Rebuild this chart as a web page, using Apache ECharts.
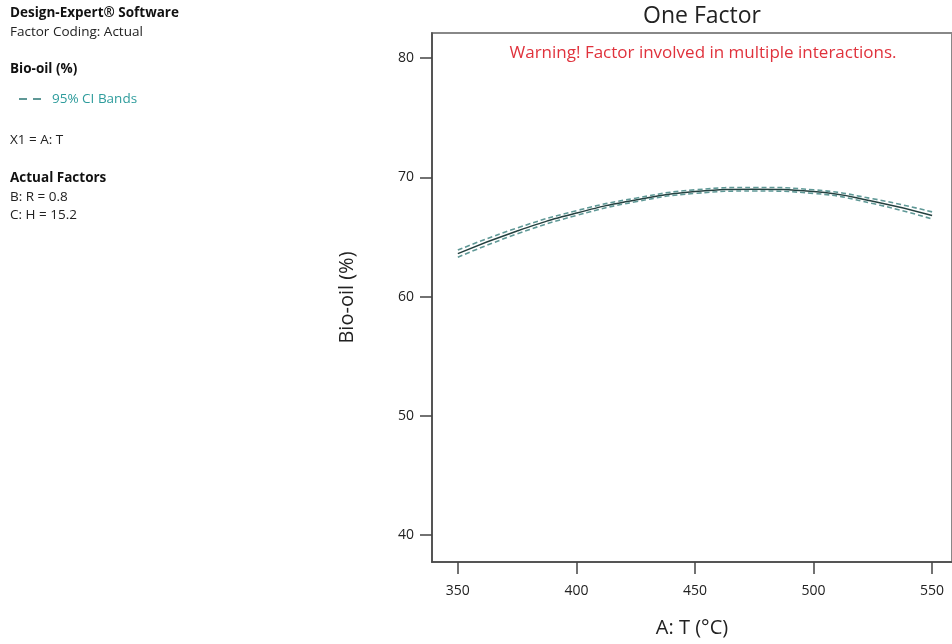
<!DOCTYPE html>
<html>
<head>
<meta charset="utf-8">
<script src="https://cdn.jsdelivr.net/npm/echarts@6/dist/echarts.min.js"></script>
<style>
  html, body { margin: 0; padding: 0; background: #fff; }
  #chart { width: 952px; height: 644px; }
</style>
</head>
<body>
<div id="chart"></div>
<script>
const temps = [350, 375, 400, 425, 450, 475, 500, 525, 550]
const bioOil = [63.6, 65.5, 67.0, 68.1, 68.8, 69.0, 68.8, 68.0, 66.8]
const ciUpper = [63.9, 65.75, 67.2, 68.25, 68.95, 69.15, 68.95, 68.2, 67.1]
const ciLower = [63.3, 65.25, 66.8, 67.95, 68.65, 68.85, 68.65, 67.8, 66.5]
const xTicks = [350, 400, 450, 500, 550]
const yTicks = [40, 50, 60, 70, 80]

const font = '"Open Sans", "Noto Sans", sans-serif'
const chart = echarts.init(document.getElementById('chart'))

const pairs = arr => temps.map((t, i) => [t, arr[i]])

chart.setOption({
  backgroundColor: '#fff',
  animation: false,
  textStyle: { fontFamily: font },
  title: [
    {
      text: 'One Factor',
      left: 697, top: 0, textAlign: 'center',
      textStyle: { fontSize: 23, fontWeight: 'normal', color: '#222', fontFamily: font }
    },
    {
      text: 'Warning! Factor involved in multiple interactions.',
      left: 698, top: 40, textAlign: 'center',
      textStyle: { fontSize: 17, fontWeight: 'normal', color: '#e0323c', fontFamily: font }
    }
  ],
  graphic: [
    { type: 'text', left: 10, top: 6, style: { text: 'Design-Expert® Software', font: 'bold 13.5px ' + font, fill: '#111' } },
    { type: 'text', left: 10, top: 25, style: { text: 'Factor Coding: Actual', font: '13.5px ' + font, fill: '#222' } },
    { type: 'text', left: 10, top: 62, style: { text: 'Bio-oil (%)', font: 'bold 13.5px ' + font, fill: '#111' } },
    { type: 'text', left: 10, top: 133, style: { text: 'X1 = A: T', font: '13.5px ' + font, fill: '#222' } },
    { type: 'text', left: 10, top: 171, style: { text: 'Actual Factors', font: 'bold 13.5px ' + font, fill: '#111' } },
    { type: 'text', left: 10, top: 190, style: { text: 'B: R = 0.8', font: '13.5px ' + font, fill: '#222' } },
    { type: 'text', left: 10, top: 208, style: { text: 'C: H = 15.2', font: '13.5px ' + font, fill: '#222' } }
  ],
  legend: {
    data: [{ name: '95% CI Bands', icon: 'path://M0,0H8V2H0Z M14,0H22V2H14Z' }],
    left: 14, top: 87,
    itemWidth: 22, itemHeight: 2, itemGap: 6,
    textStyle: { color: '#2e9c9c', fontSize: 13.5, fontFamily: font, padding: [0, 0, 0, 6] }
  },
  grid: {
    left: 432, right: -3, top: 33, bottom: 82,
    show: true, borderColor: '#888', borderWidth: 2, backgroundColor: 'transparent'
  },
  xAxis: {
    type: 'value',
    min: 339.1, max: 558.4,
    name: 'A: T (°C)', nameLocation: 'middle', nameGap: 56,
    nameTextStyle: { fontSize: 20, color: '#222', fontFamily: font },
    axisLine: { show: true, lineStyle: { color: '#444', width: 1.5 } },
    axisTick: { show: true, length: 12, customValues: xTicks, lineStyle: { color: '#444', width: 1.5 } },
    axisLabel: { customValues: xTicks, margin: 22, fontSize: 14, color: '#222', fontFamily: font },
    splitLine: { show: false }
  },
  yAxis: {
    type: 'value',
    min: 37.74, max: 82.1,
    name: 'Bio-oil (%)', nameLocation: 'middle', nameGap: 75, nameRotate: 90,
    nameTextStyle: { fontSize: 20, color: '#222', fontFamily: font },
    axisLine: { show: true, lineStyle: { color: '#444', width: 1.5 } },
    axisTick: { show: true, length: 12, customValues: yTicks, lineStyle: { color: '#444', width: 1.5 } },
    axisLabel: { customValues: yTicks, margin: 18, fontSize: 14, color: '#222', fontFamily: font },
    splitLine: { show: false }
  },
  series: [
    {
      name: 'Bio-oil',
      type: 'line', smooth: true, symbol: 'none',
      lineStyle: { color: '#24403f', width: 1.5 },
      data: pairs(bioOil)
    },
    {
      name: '95% CI Bands',
      type: 'line', smooth: true, symbol: 'none',
      lineStyle: { color: '#5f9896', width: 1.6, type: [5, 3] },
      itemStyle: { color: '#5f9896' },
      data: pairs(ciUpper)
    },
    {
      name: '95% CI Bands',
      type: 'line', smooth: true, symbol: 'none',
      lineStyle: { color: '#5f9896', width: 1.6, type: [5, 3] },
      itemStyle: { color: '#5f9896' },
      data: pairs(ciLower)
    }
  ]
})

window.addEventListener('resize', () => chart.resize())
</script>
</body>
</html>
